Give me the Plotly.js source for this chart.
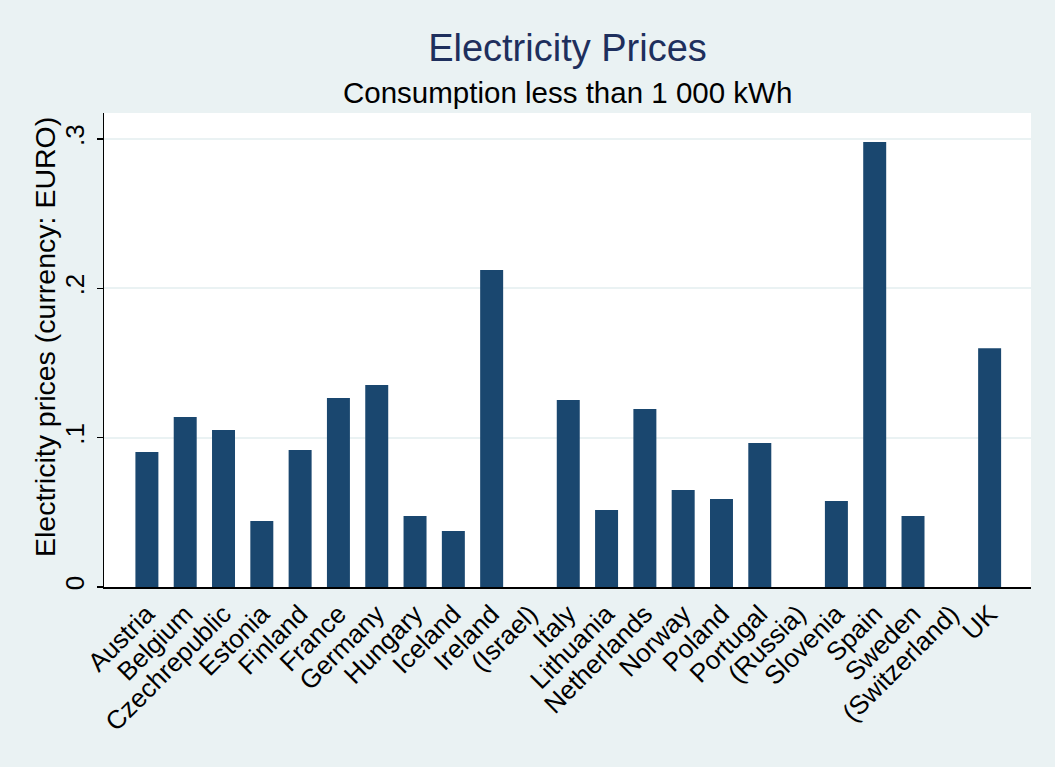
<!DOCTYPE html>
<html>
<head>
<meta charset="utf-8">
<script src="https://cdn.plot.ly/plotly-3.0.1.min.js"></script>
<style>html,body{margin:0;padding:0;background:#eaf2f3;}#chart{width:1055px;height:767px;}</style>
</head>
<body>
<div id="chart"></div>
<script>
const countries = ["Austria","Belgium","Czechrepublic","Estonia","Finland","France","Germany","Hungary","Iceland","Ireland","(Israel)","Italy","Lithuania","Netherlands","Norway","Poland","Portugal","(Russia)","Slovenia","Spain","Sweden","(Switzerland)","UK"];
const prices = [0.0904,0.1139,0.1052,0.0442,0.0918,0.1266,0.1353,0.0476,0.0375,0.2123,null,0.1253,0.0516,0.1192,0.065,0.0589,0.0965,null,0.0576,0.298,0.0476,null,0.160];
const yTickVals = [0,0.1,0.2,0.3];
const yTickText = ["0",".1",".2",".3"];
const titleText = "Electricity Prices";
const subtitleText = "Consumption less than 1 000 kWh";
const yTitleText = "Electricity prices (currency: EURO)";

const font = "Liberation Sans, Arial, sans-serif";
const data = [{
  type: "bar",
  x: countries,
  y: prices,
  width: 0.6,
  marker: {color: "#1a476f", line: {width: 0}},
  hoverinfo: "x+y"
}];
const plotTop = 113, plotBottom = 587, H = 767;
const layout = {
  width: 1055, height: H,
  paper_bgcolor: "#eaf2f3",
  plot_bgcolor: "#ffffff",
  margin: {l: 104, r: 24, t: plotTop, b: H - plotBottom},
  showlegend: false,
  font: {family: font, color: "#000"},
  title: {text: titleText, font: {family: font, size: 38, color: "#1e2f5d"}, xref: "paper", x: 0.5, xanchor: "center", y: 1 - 48/H, yanchor: "middle"},
  annotations: [
    {text: subtitleText, xref: "paper", yref: "paper", x: 0.5, y: 1, xanchor: "center", yanchor: "middle", yshift: plotTop - 92, showarrow: false, font: {family: font, size: 29.5, color: "#000"}},
    {text: yTitleText, xref: "paper", yref: "paper", x: 0, y: 0.5, xanchor: "center", yanchor: "middle", xshift: 45 - 104, yshift: (plotTop + plotBottom)/2 - 337, textangle: -90, showarrow: false, font: {family: font, size: 28.5, color: "#000"}}
  ],
  xaxis: {
    type: "category",
    range: [-1.12, 23.08],
    tickangle: -45,
    tickfont: {family: font, size: 26, color: "#000"},
    showgrid: false,
    showline: true, linecolor: "#000", linewidth: 1.5,
    ticks: "", zeroline: false, fixedrange: true
  },
  yaxis: {
    range: [0, 0.3175],
    tickvals: yTickVals, ticktext: yTickText,
    tickangle: -90,
    tickfont: {family: font, size: 26, color: "#000"},
    ticks: "outside", ticklen: 6, tickcolor: "#000", tickwidth: 1.5,
    ticklabelstandoff: 2,
    showgrid: true, gridcolor: "#eaf2f3", gridwidth: 2,
    showline: true, linecolor: "#000", linewidth: 1.5,
    zeroline: false,
    fixedrange: true
  }
};
Plotly.newPlot("chart", data, layout, {displayModeBar: false, staticPlot: true});
</script>
</body>
</html>
